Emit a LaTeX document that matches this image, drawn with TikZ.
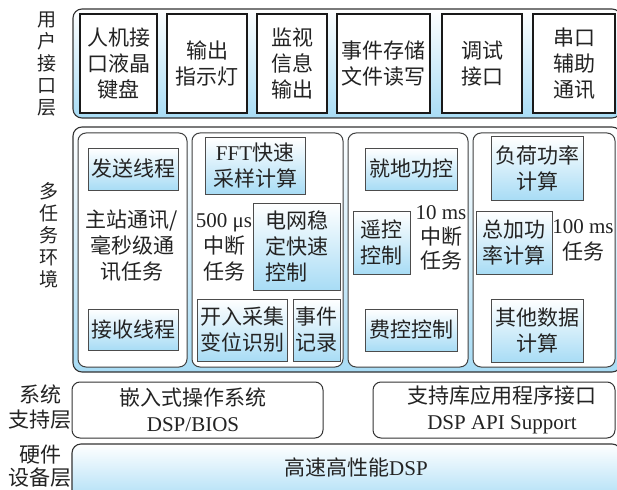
\documentclass[tikz,border=0pt]{standalone}
\usepackage{fontspec}
\setmainfont{Liberation Serif}
\newfontfamily\cjk{Noto Sans CJK SC}
\newfontfamily\lat{Liberation Serif}
\definecolor{mblue}{RGB}{168,220,245}
\definecolor{txt}{RGB}{35,35,35}
\begin{document}
\begin{tikzpicture}[x=1pt,y=-1pt,
  every node/.style={font=\cjk\fontsize{21}{26}\selectfont, align=center, inner sep=0pt, text=txt},
  outer/.style={draw=black!80, line width=1.1pt, rounded corners=9pt, top color=white, bottom color=mblue},
  whitebox/.style={draw=black!90, line width=1.1pt, fill=white},
  group/.style={draw=black!75, line width=1pt, rounded corners=8pt, fill=white},
  gbox/.style={draw=black!70, line width=1pt, top color=white, bottom color=mblue},
  sysbox/.style={draw=black!80, line width=1pt, rounded corners=8pt, fill=white},
  layerlbl/.style={font=\cjk\fontsize{19}{22}\selectfont},
  sz/.style 2 args={minimum width=#1, minimum height=#2}
]
\useasboundingbox (0,0) rectangle (617,489);

% ---------- user interface layer ----------
\node[layerlbl] (lbl1) at (47,64) {用\\户\\接\\口\\层};
\node[outer, sz={548pt}{109pt}] (top) at (347,63.5) {};
\node[whitebox, sz={77pt}{99pt}] (u1) at (118.5,63.5) {人机接\\口液晶\\键盘};
\node[whitebox, sz={80pt}{99pt}] (u2) at (207,63.5) {输出\\指示灯};
\node[whitebox, sz={70pt}{99pt}] (u3) at (292,63.5) {监视\\信息\\输出};
\node[whitebox, sz={93pt}{99pt}] (u4) at (383.5,63.5) {事件存储\\文件读写};
\node[whitebox, sz={80pt}{99pt}] (u5) at (482,63.5) {调试\\接口};
\node[whitebox, sz={82pt}{99pt}] (u6) at (574,63.5) {串口\\辅助\\通讯};

% ---------- multitask layer ----------
\node[layerlbl] (lbl2) at (49,235) {多\\任\\务\\环\\境};
\node[outer, sz={548pt}{245pt}] (mid) at (347,249.5) {};
\node[group, sz={109pt}{234pt}] (g1) at (132.5,250) {};
\node[group, sz={151pt}{234pt}] (g2) at (267.5,250) {};
\node[group, sz={120pt}{234pt}] (g3) at (408,250) {};
\node[group, sz={142pt}{234pt}] (g4) at (544,250) {};

% group 1
\node[gbox, sz={90pt}{42pt}] (send) at (133,169) {发送线程};
\node (g1t) at (132,246) {主站通讯/\\毫秒级通\\讯任务};
\node[gbox, sz={90pt}{41pt}] (recv) at (133,329.5) {接收线程};

% group 2
\node[gbox, sz={100pt}{56pt}] (fft) at (255,166) {{\lat FFT}快速\\采样计算};
\node (g2t) at (224,247.5) {{\lat 500 μs}\\中断\\任务};
\node[gbox, sz={87pt}{87pt}, align=left] (grid) at (296.5,246.5) {电网稳\\定快速\\控制};
\node[gbox, sz={90pt}{62pt}] (din) at (242,330) {开入采集\\变位识别};
\node[gbox, sz={47pt}{62pt}] (evt) at (316.5,330) {事件\\记录};

% group 3
\node[gbox, sz={92pt}{42pt}] (local) at (411,169) {就地功控};
\node[gbox, sz={57pt}{63pt}] (remote) at (381.5,242.5) {遥控\\控制};
\node[font=\cjk\fontsize{21}{24.5}\selectfont] (g3t) at (441,238) {{\lat 10 ms}\\中断\\任务};
\node[gbox, sz={92pt}{42pt}] (fee) at (411,330) {费控控制};

% group 4
\node[gbox, sz={92pt}{63pt}] (load) at (537,168.5) {负荷功率\\计算};
\node[gbox, sz={76pt}{63pt}] (sum) at (514,242.5) {总加功\\率计算};
\node (g4t) at (583,240) {{\lat 100 ms}\\任务};
\node[gbox, sz={92pt}{63pt}] (other) at (537,330.5) {其他数据\\计算};

% ---------- system support layer ----------
\node[font=\cjk\fontsize{21}{25}\selectfont] (lbl3) at (40,407.5) {系统\\支持层};
\node[sysbox, sz={251pt}{56pt}] (sys1) at (197.5,410) {};
\node (sys1t) at (193,410) {嵌入式操作系统\\{\lat DSP/BIOS}};
\node[sysbox, sz={242pt}{56pt}] (sys2) at (494,410) {};
\node (sys2t) at (502,410) {支持库应用程序接口\\{\lat DSP API Support}};

% ---------- hardware layer ----------
\node[font=\cjk\fontsize{21}{23}\selectfont] (lbl4) at (40,466.5) {硬件\\设备层};
\node[outer, sz={549pt}{60pt}] (hw) at (346.5,474) {};
\node (hwt) at (356,467) {高速高性能{\lat DSP}};
\end{tikzpicture}
\end{document}
